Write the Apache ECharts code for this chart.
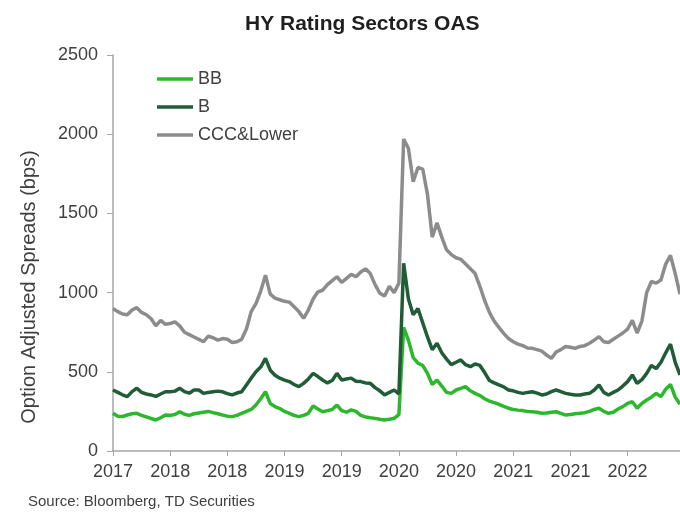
<!DOCTYPE html>
<html>
<head>
<meta charset="utf-8">
<script src="https://cdn.jsdelivr.net/npm/echarts@6/dist/echarts.min.js"></script>
<style>
  html, body { margin: 0; padding: 0; background: #fff; }
  #chart { width: 680px; height: 513px; }
</style>
</head>
<body>
<div id="chart"></div>
<script>
// semi-monthly observations, Sep 2017 .. Aug 2022 (1st and 15th of month)
const startYear = 2017, startMonth = 8
const dates = []
for (let i = 0; i < 120; i++) {
  let m = startMonth + Math.floor(i / 2)
  let y = startYear + Math.floor(m / 12)
  let mm = (m % 12) + 1
  dates.push(y + '-' + (mm < 10 ? '0' + mm : mm) + (i % 2 ? '-15' : '-01'))
}

const bbValues = [
  238, 220, 218, 227, 235, 238, 225, 215, 205, 196,
  210, 227, 225, 230, 248, 232, 225, 235, 240, 245,
  250, 242, 235, 227, 220, 217, 225, 238, 250, 262,
  290, 330, 374, 300, 280, 268, 250, 238, 225, 217,
  225, 238, 285, 265, 248, 255, 262, 290, 255, 245,
  260, 250, 225, 215, 210, 206, 200, 196, 200, 206,
  230, 780, 700, 590, 555, 540, 490, 420, 448, 410,
  370, 364, 385, 395, 406, 380, 364, 350, 330, 315,
  305, 295, 282, 270, 262, 258, 255, 250, 248, 245,
  238, 240, 245, 248, 238, 227, 230, 235, 238, 242,
  250, 262, 270, 250, 238, 245, 265, 280, 300, 311,
  270, 300, 322, 340, 364, 343, 390, 420, 340, 295
]
const bValues = [
  385, 370, 355, 343, 375, 396, 370, 360, 354, 345,
  360, 374, 374, 378, 396, 375, 365, 385, 385, 364,
  370, 374, 378, 374, 362, 354, 366, 374, 417, 460,
  500, 530, 585, 510, 478, 460, 448, 438, 420, 406,
  427, 455, 490, 470, 448, 430, 445, 490, 448, 455,
  460, 440, 438, 430, 427, 400, 380, 354, 370, 385,
  360, 1185, 960, 860, 900, 810, 720, 640, 680, 620,
  580, 545, 560, 575, 545, 532, 550, 540, 495, 445,
  430, 417, 405, 385, 380, 370, 364, 370, 374, 365,
  354, 360, 375, 385, 375, 364, 358, 354, 354, 360,
  364, 385, 417, 370, 354, 370, 385, 410, 438, 480,
  427, 450, 490, 540, 520, 560, 620, 675, 560, 480
]
const cccValues = [
  900, 880, 865, 860, 890, 905, 875, 860, 835, 790,
  825, 800, 805, 815, 790, 750, 735, 720, 705, 690,
  725, 715, 700, 710, 705, 685, 690, 705, 770, 880,
  930, 1010, 1110, 990, 965, 955, 945, 940, 910, 880,
  838, 890, 960, 1005, 1015, 1050, 1075, 1100, 1065, 1090,
  1115, 1100, 1130, 1150, 1120, 1050, 996, 978, 1040, 1000,
  1060, 1970, 1910, 1700, 1790, 1780, 1620, 1350, 1440, 1350,
  1270, 1240, 1220, 1210, 1180, 1150, 1120, 1040, 950, 875,
  820, 780, 743, 710, 690, 675, 665, 650, 648, 640,
  630, 606, 585, 625, 640, 660, 655, 648, 660, 665,
  680, 700, 722, 690, 685, 705, 725, 745, 770, 825,
  745, 820, 1000, 1070, 1060, 1080, 1180, 1235, 1120, 990
]
const yTicks = [0, 500, 1000, 1500, 2000, 2500]

const font = 'Liberation Sans, Arial, sans-serif'
const chart = echarts.init(document.getElementById('chart'))

const option = {
  animation: false,
  title: {
    text: 'HY Rating Sectors OAS',
    left: 240,
    top: 9,
    textStyle: { fontFamily: font, fontSize: 21, fontWeight: 'bold', color: '#1f1f1f' }
  },
  legend: {
    orient: 'vertical',
    left: 152,
    top: 65,
    icon: 'rect',
    itemWidth: 36,
    itemHeight: 3.5,
    itemGap: 10,
    textStyle: { fontFamily: font, fontSize: 18, color: '#404040', lineHeight: 18 },
    data: ['BB', 'B', 'CCC&Lower']
  },
  grid: { left: 113, right: 0, top: 55, bottom: 62 },
  xAxis: {
    type: 'category',
    data: dates,
    boundaryGap: false,
    axisLine: { lineStyle: { color: '#a6a6a6', width: 1.5 } },
    axisTick: { interval: 11, length: 5, lineStyle: { color: '#a6a6a6' } },
    axisLabel: {
      interval: 11,
      margin: 12,
      fontFamily: font,
      fontSize: 18,
      color: '#404040',
      formatter: v => v.slice(0, 4)
    },
    splitLine: { show: false }
  },
  yAxis: {
    type: 'value',
    min: yTicks[0],
    max: yTicks[yTicks.length - 1],
    interval: 500,
    name: 'Option Adjusted Spreads (bps)',
    nameLocation: 'middle',
    nameGap: 74,
    nameTextStyle: { fontFamily: font, fontSize: 20, color: '#404040', padding: [0, 68, 0, 0] },
    axisLine: { show: true, lineStyle: { color: '#a6a6a6', width: 1.5 } },
    axisTick: { show: true, length: 6, lineStyle: { color: '#a6a6a6' } },
    axisLabel: { margin: 15, fontFamily: font, fontSize: 18, color: '#404040', formatter: v => String(v) },
    splitLine: { show: false }
  },
  series: [
    {
      name: 'BB', type: 'line', data: bbValues, symbol: 'none',
      color: '#2cb82c', lineStyle: { width: 3.5 }
    },
    {
      name: 'B', type: 'line', data: bValues, symbol: 'none',
      color: '#205c36', lineStyle: { width: 3.5 }
    },
    {
      name: 'CCC&Lower', type: 'line', data: cccValues, symbol: 'none',
      color: '#8c8c8c', lineStyle: { width: 3.5 }
    }
  ],
  graphic: [
    {
      type: 'text',
      left: 28,
      top: 494,
      style: { text: 'Source: Bloomberg, TD Securities', fontFamily: font, fontSize: 15, fill: '#404040' }
    }
  ]
}
chart.setOption(option)
</script>
</body>
</html>
